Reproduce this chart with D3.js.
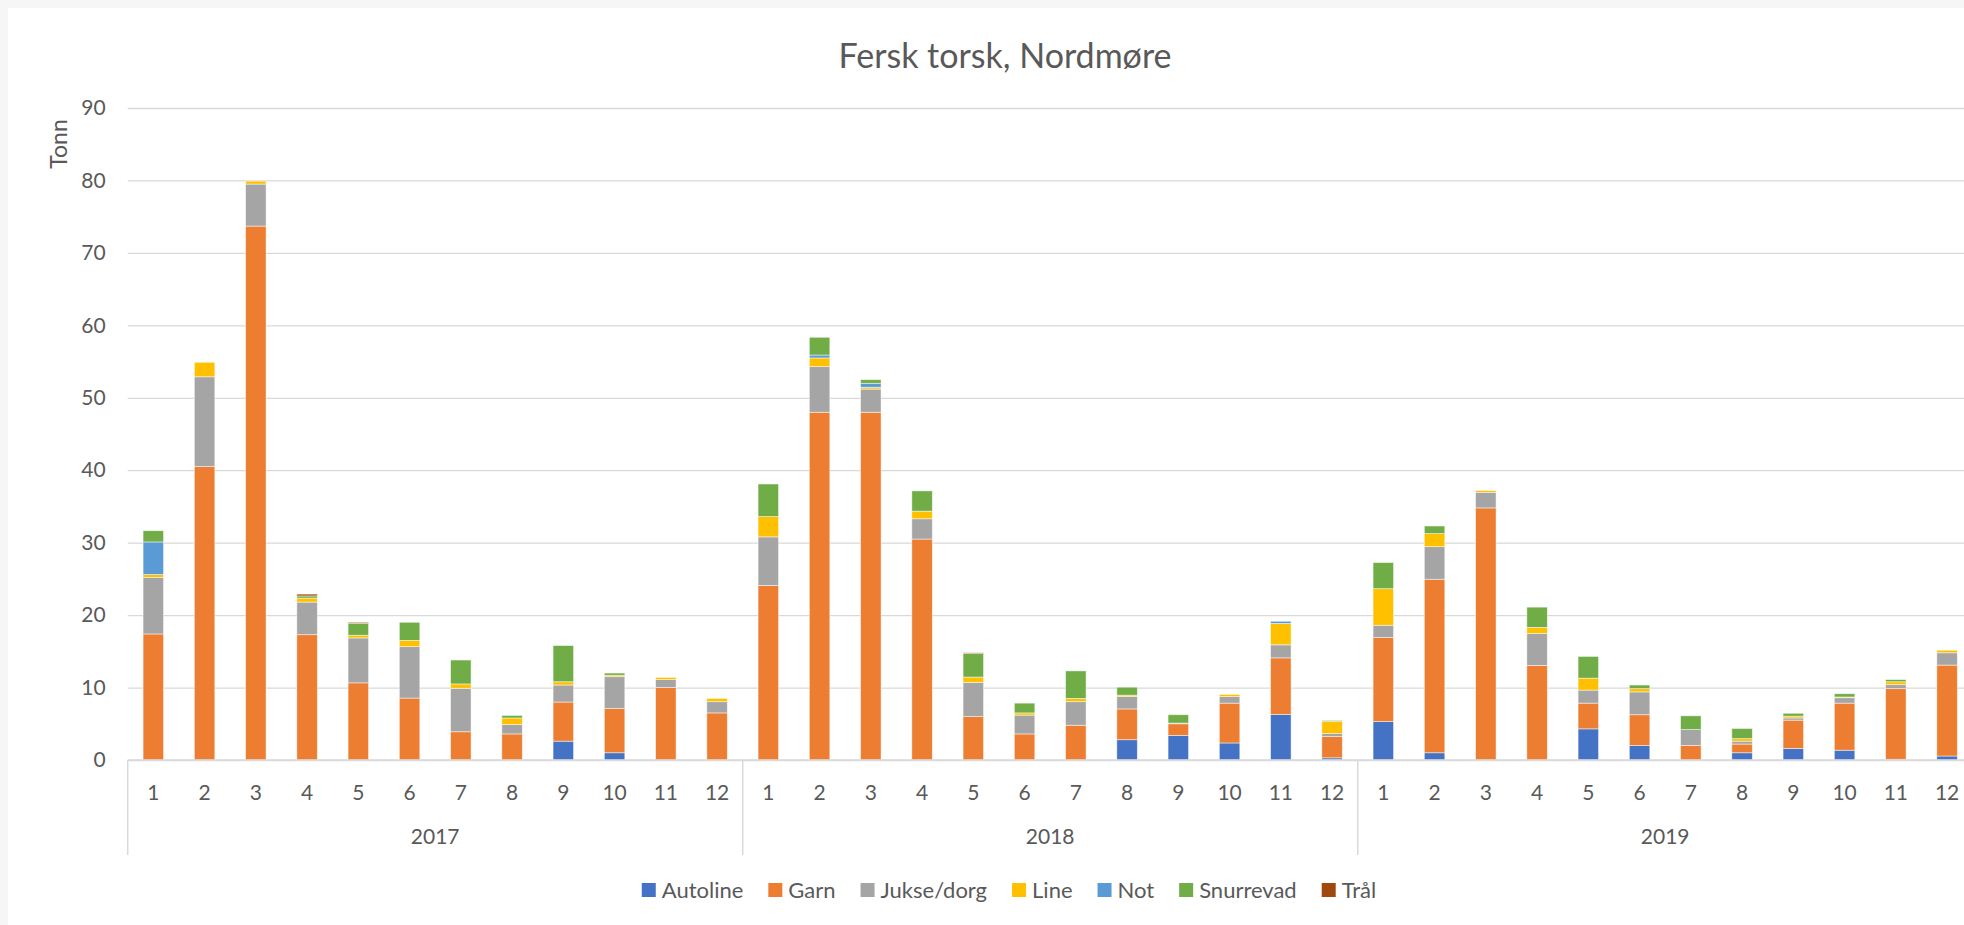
<!DOCTYPE html>
<html>
<head>
<meta charset="utf-8">
<script src="https://cdn.jsdelivr.net/npm/d3@7"></script>
<style>
  body { margin: 0; background: #f6f6f6; }
  text { font-family: Lato, "Open Sans", sans-serif; fill: #595959; }
</style>
</head>
<body>
<div id="plot"></div>
<script>
// Data (tonn per month)
var years = ["2017", "2018", "2019"];
var months = ["1","2","3","4","5","6","7","8","9","10","11","12"];
var gears = ["Autoline", "Garn", "Jukse/dorg", "Line", "Not", "Snurrevad", "Trål"];
var gearColors = ["#4472C4", "#ED7D31", "#A5A5A5", "#FFC000", "#5B9BD5", "#70AD47", "#9E480E"];
var yTicks = [0, 10, 20, 30, 40, 50, 60, 70, 80, 90];

var autoline = [0,0,0,0,0,0,0,0,2.6,1.0,0,0,
                0,0,0,0,0,0,0,2.8,3.4,2.35,6.3,0.3,
                5.3,1.0,0,0,4.3,2.0,0,1.0,1.6,1.35,0.1,0.55];
var garn = [17.4,40.5,73.7,17.3,10.65,8.55,3.9,3.6,5.4,6.1,10.0,6.5,
            24.1,48.0,48.0,30.5,6.0,3.6,4.8,4.25,1.6,5.5,7.8,2.95,
            11.6,23.95,34.8,13.05,3.55,4.25,2.0,1.2,3.9,6.5,9.75,12.55];
var jukse = [7.8,12.4,5.8,4.5,6.2,7.1,6.0,1.3,2.35,4.4,1.1,1.55,
             6.7,6.3,3.2,2.8,4.7,2.6,3.25,1.7,0.1,0.9,1.8,0.4,
             1.7,4.5,2.15,4.4,1.8,3.15,2.2,0.4,0.3,0.75,0.55,1.7];
var line = [0.4,2.0,0.4,0.55,0.37,0.86,0.6,0.9,0.45,0.2,0.3,0.45,
            2.8,1.2,0.25,1.05,0.75,0.3,0.45,0.2,0,0.3,2.95,1.7,
            5.05,1.8,0.25,0.85,1.65,0.45,0,0.35,0.25,0.1,0.4,0.35];
var not = [4.5,0,0,0,0,0,0,0,0,0,0,0,
           0,0.4,0.55,0,0,0,0,0,0,0,0.3,0,
           0,0,0,0,0,0,0,0,0,0,0,0];
var snurrevad = [1.55,0,0,0.3,1.66,2.5,3.3,0.35,5.0,0.3,0,0,
                 4.5,2.45,0.5,2.8,3.25,1.35,3.8,1.1,1.15,0,0,0.12,
                 3.6,1.05,0,2.8,3.0,0.5,1.9,1.4,0.4,0.45,0.3,0];
var tral = [0,0,0,0.25,0.13,0,0,0,0,0,0,0,
            0,0,0,0,0.1,0,0,0,0,0,0,0,
            0,0,0,0,0,0,0,0,0,0,0,0];

var seriesValues = [autoline, garn, jukse, line, not, snurrevad, tral];

// Build rows for d3.stack
var data = [];
years.forEach(function(yr, yi) {
    months.forEach(function(m, mi) {
        var row = {key: yr + "-" + m, year: yr, month: m};
        gears.forEach(function(g, gi) { row[g] = seriesValues[gi][yi * 12 + mi]; });
        data.push(row);
    });
});

// Dimensions
var W = 1964, H = 925;
var plotLeft = 127.7, plotRight = 1972.7, plotTop = 108, plotBottom = 760;

var svg = d3.select("#plot")
    .append("svg")
        .attr("width", W)
        .attr("height", H)
        .style("display", "block");

svg.append("rect")
    .attr("x", 8).attr("y", 8)
    .attr("width", W - 8).attr("height", H - 8)
    .attr("fill", "#ffffff");

// Scales
var x = d3.scaleBand()
    .domain(data.map(function(d) { return d.key; }))
    .range([plotLeft, plotRight])
    .paddingInner(0.6)
    .paddingOuter(0.3);
var step = x.step();

var y = d3.scaleLinear()
    .domain([0, 90])
    .range([plotBottom, plotTop]);

var color = d3.scaleOrdinal()
    .domain(gears)
    .range(gearColors);

// Gridlines + y labels
var yAxis = svg.append("g")
    .attr("transform", "translate(" + plotLeft + ",0)")
    .call(d3.axisLeft(y).tickValues(yTicks).tickSize(-(plotRight - plotLeft)).tickPadding(22));
yAxis.select(".domain").remove();
yAxis.selectAll(".tick line").attr("stroke", "#d9d9d9").attr("stroke-width", 1.3);
yAxis.selectAll(".tick text")
    .style("font-size", "21px")
    .attr("fill", "#595959");

// Stacked bars
var stackedData = d3.stack().keys(gears)(data);

svg.append("g")
    .selectAll("g")
    .data(stackedData)
    .enter().append("g")
        .attr("fill", function(d) { return color(d.key); })
    .selectAll("rect")
    .data(function(d) { return d.filter(function(s) { return s[1] - s[0] > 0; }); })
    .enter().append("rect")
        .attr("x", function(d) { return x(d.data.key); })
        .attr("y", function(d) { return y(d[1]); })
        .attr("height", function(d) { return y(d[0]) - y(d[1]); })
        .attr("width", x.bandwidth())
        .attr("stroke", "#ffffff")
        .attr("stroke-opacity", 0.6)
        .attr("stroke-width", 0.8);

// X axis (two levels: month, year)
var axisColor = "#d9d9d9";
svg.append("line")
    .attr("x1", plotLeft).attr("x2", plotRight)
    .attr("y1", plotBottom).attr("y2", plotBottom)
    .attr("stroke", axisColor).attr("stroke-width", 1.5);

svg.append("g")
    .selectAll("text")
    .data(data)
    .enter().append("text")
        .attr("x", function(d) { return x(d.key) + x.bandwidth() / 2; })
        .attr("y", 793)
        .attr("dy", "0.35em")
        .attr("text-anchor", "middle")
        .style("font-size", "21px")
        .text(function(d) { return d.month; });

// Year separators and labels
var yearStart = function(yr) { return x(yr + "-1") - step * 0.3; };
var seps = years.map(yearStart);
svg.append("g")
    .selectAll("line")
    .data(seps)
    .enter().append("line")
        .attr("x1", function(d) { return d; }).attr("x2", function(d) { return d; })
        .attr("y1", plotBottom).attr("y2", 855)
        .attr("stroke", axisColor).attr("stroke-width", 1.5);

svg.append("g")
    .selectAll("text")
    .data(years)
    .enter().append("text")
        .attr("x", function(d) { return yearStart(d) + step * 6; })
        .attr("y", 837)
        .attr("dy", "0.35em")
        .attr("text-anchor", "middle")
        .style("font-size", "21px")
        .text(function(d) { return d; });

// Title
svg.append("text")
    .attr("x", 1005)
    .attr("y", 56)
    .attr("dy", "0.35em")
    .attr("text-anchor", "middle")
    .style("font-size", "34px")
    .text("Fersk torsk, Nordmøre");

// Y axis title
svg.append("text")
    .attr("transform", "translate(59,144) rotate(-90)")
    .attr("dy", "0.35em")
    .attr("text-anchor", "middle")
    .style("font-size", "23px")
    .text("Tonn");

// Legend
var legend = svg.append("g");
var lx = 0;
gears.forEach(function(g) {
    var item = legend.append("g").attr("transform", "translate(" + lx + ",0)");
    item.append("rect")
        .attr("x", 0).attr("y", -7)
        .attr("width", 14).attr("height", 14)
        .attr("fill", color(g));
    var t = item.append("text")
        .attr("x", 20)
        .attr("dy", "0.35em")
        .style("font-size", "22px")
        .text(g);
    lx += 20 + t.node().getComputedTextLength() + 25;
});
lx -= 25;
legend.attr("transform", "translate(" + (1009 - lx / 2) + ",890)");
</script>
</body>
</html>
